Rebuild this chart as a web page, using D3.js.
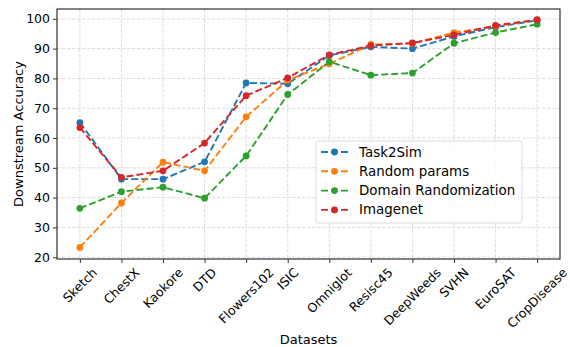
<!DOCTYPE html>
<html>
<head>
<meta charset="utf-8">
<script src="https://cdn.jsdelivr.net/npm/d3@7"></script>
<style>
  body { margin: 0; background: #fff; }
  text { font-family: "DejaVu Sans", sans-serif; fill: #000; }
</style>
</head>
<body>
<svg id="chart" width="570" height="347"></svg>
<script>
const datasets = ["Sketch", "ChestX", "Kaokore", "DTD", "Flowers102", "ISIC", "Omniglot",
                  "Resisc45", "DeepWeeds", "SVHN", "EuroSAT", "CropDisease"];
const seriesNames = ["Task2Sim", "Random params", "Domain Randomization", "Imagenet"];
const task2sim = [65.2, 46.2, 46.2, 52.0, 78.5, 78.2, 87.7, 90.6, 90.0, 94.1, 97.2, 99.5];
const randomParams = [23.3, 38.2, 51.9, 49.0, 67.1, 79.4, 84.9, 91.4, 91.7, 95.4, 97.5, 99.6];
const domainRand = [36.4, 42.0, 43.5, 39.8, 54.0, 74.6, 85.6, 81.1, 81.8, 91.8, 95.4, 98.2];
const imagenet = [63.5, 46.8, 49.0, 58.3, 74.2, 80.2, 87.9, 91.0, 91.9, 94.6, 97.8, 99.7];
const yTicks = [20, 30, 40, 50, 60, 70, 80, 90, 100];

const series = [task2sim, randomParams, domainRand, imagenet];
const colors = ["#1f77b4", "#ff7f0e", "#2ca02c", "#d62728"];

const margin = { top: 9, right: 10, bottom: 88, left: 57 },
      width = 570 - margin.left - margin.right,
      height = 347 - margin.top - margin.bottom;

const svg = d3.select("#chart")
  .append("g")
  .attr("transform", `translate(${margin.left},${margin.top})`);

const x = d3.scaleLinear()
  .domain([-0.55, datasets.length - 1 + 0.55])
  .range([0, width]);

const y = d3.scaleLinear()
  .domain([19.4, 103.3])
  .range([height, 0]);

// grid
svg.append("g")
  .selectAll("line.gx")
  .data(datasets)
  .enter()
  .append("line")
  .attr("x1", (d, i) => x(i)).attr("x2", (d, i) => x(i))
  .attr("y1", 0).attr("y2", height)
  .attr("stroke", "#b0b0b0").attr("stroke-opacity", 0.55)
  .attr("stroke-width", 0.8).attr("stroke-dasharray", "3.5,1.5");

svg.append("g")
  .selectAll("line.gy")
  .data(yTicks)
  .enter()
  .append("line")
  .attr("x1", 0).attr("x2", width)
  .attr("y1", d => y(d)).attr("y2", d => y(d))
  .attr("stroke", "#b0b0b0").attr("stroke-opacity", 0.55)
  .attr("stroke-width", 0.8).attr("stroke-dasharray", "3.5,1.5");

// y axis
const yAxis = svg.append("g")
  .call(d3.axisLeft(y).tickValues(yTicks).tickSize(4).tickPadding(3));
yAxis.select(".domain").remove();
yAxis.selectAll("line").attr("stroke", "#000").attr("stroke-width", 0.8);
yAxis.selectAll("text").style("font-size", "12.5px").style("font-family", "DejaVu Sans");

// x axis ticks
const xAxis = svg.append("g")
  .attr("transform", `translate(0,${height})`)
  .call(d3.axisBottom(x).tickValues(d3.range(datasets.length)).tickSize(4).tickFormat(""));
xAxis.select(".domain").remove();
xAxis.selectAll("line").attr("stroke", "#000").attr("stroke-width", 0.8);

// rotated x labels, bbox centred on tick like matplotlib
const labelG = svg.append("g");
datasets.forEach((name, i) => {
  const t = labelG.append("text")
    .text(name)
    .style("font-size", "12.5px")
    .attr("text-anchor", "middle")
    .attr("dominant-baseline", "central");
  const w = t.node().getComputedTextLength();
  const h = 12;
  const half = (w + h) / (2 * Math.SQRT2);
  const cx = x(i), cy = height + 7 + half;
  t.attr("x", cx).attr("y", cy)
   .attr("transform", `rotate(-45,${cx},${cy})`);
});

// frame
svg.append("rect")
  .attr("width", width).attr("height", height)
  .attr("fill", "none").attr("stroke", "#333").attr("stroke-width", 1.2);

// lines
const line = d3.line()
  .x((d, i) => x(i))
  .y(d => y(d));

series.forEach((vals, k) => {
  svg.append("path")
    .datum(vals)
    .attr("d", line)
    .attr("fill", "none")
    .attr("stroke", colors[k])
    .attr("stroke-width", 1.9)
    .attr("stroke-dasharray", "7,3");
  svg.append("g")
    .selectAll("circle")
    .data(vals)
    .enter()
    .append("circle")
    .attr("cx", (d, i) => x(i))
    .attr("cy", d => y(d))
    .attr("r", 3.4)
    .attr("fill", colors[k]);
});

// axis titles
svg.append("text")
  .attr("x", width / 2).attr("y", 339 - margin.top)
  .attr("text-anchor", "middle")
  .attr("dominant-baseline", "central")
  .style("font-size", "13px")
  .text("Datasets");

svg.append("text")
  .attr("transform", `translate(${18 - margin.left},${height / 2}) rotate(-90)`)
  .attr("text-anchor", "middle")
  .attr("dominant-baseline", "central")
  .style("font-size", "13px")
  .text("Downstream Accuracy");

// legend
const lg = svg.append("g")
  .attr("transform", `translate(${316 - margin.left},${141 - margin.top})`);
lg.append("rect")
  .attr("width", 206).attr("height", 82).attr("rx", 2.5)
  .attr("fill", "#fff").attr("fill-opacity", 0.8)
  .attr("stroke", "#d0d0d0").attr("stroke-width", 0.8);

seriesNames.forEach((name, k) => {
  const row = lg.append("g").attr("transform", `translate(0,${11 + k * 19.3})`);
  row.append("line")
    .attr("x1", 5).attr("x2", 33)
    .attr("stroke", colors[k]).attr("stroke-width", 1.9)
    .attr("stroke-dasharray", "7,3");
  row.append("circle").attr("cx", 18.5).attr("r", 3.4).attr("fill", colors[k]);
  row.append("text")
    .attr("x", 43)
    .attr("dominant-baseline", "central")
    .style("font-size", "13.4px")
    .text(name);
});
</script>
</body>
</html>
